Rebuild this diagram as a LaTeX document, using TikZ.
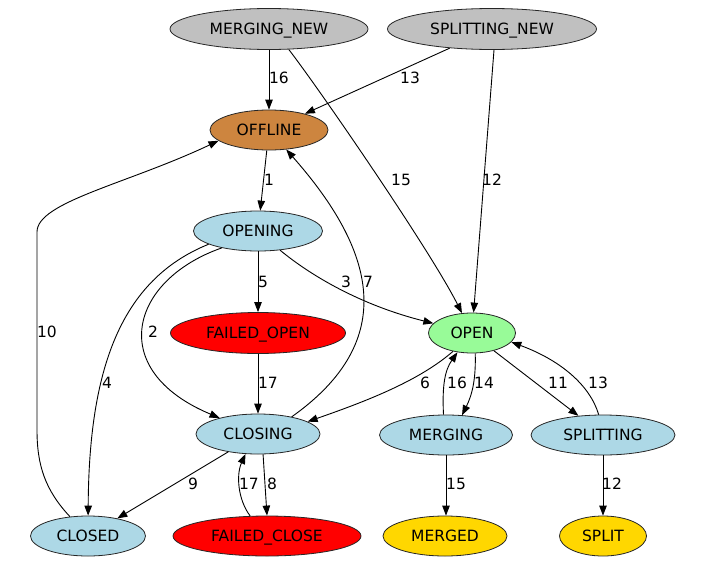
\documentclass[tikz,border=0pt]{standalone}
\usepackage{fontspec}
\setmainfont{DejaVu Sans}
\usetikzlibrary{shapes.geometric,arrows.meta}
\definecolor{cgray}{HTML}{C0C0C0}
\definecolor{cperu}{HTML}{CD853F}
\definecolor{cblue}{HTML}{ADD8E6}
\definecolor{cred}{HTML}{FF0000}
\definecolor{cgreen}{HTML}{98FB98}
\definecolor{cgold}{HTML}{FFD700}
\begin{document}
\begin{tikzpicture}[x=1pt,y=-1pt,
  state/.style={ellipse, draw=black!85, line width=0.8pt, inner sep=0pt,
    minimum height=40pt, text height=11.3pt, text depth=0pt,
    font=\fontsize{15.5}{18}\selectfont},
  edge/.style={draw=black, line width=0.9pt, -{Triangle[length=10pt,width=7.5pt]}},
  lbl/.style={inner sep=0pt, text height=11.3pt, text depth=0pt,
    font=\fontsize{15.5}{18}\selectfont}]
\useasboundingbox (0,0) rectangle (701,573);
% nodes
\node[state, fill=cgray,  minimum width=198pt, minimum height=41pt] (mn) at (269,29) {MERGING\_NEW};
\node[state, fill=cgray,  minimum width=209pt, minimum height=41pt] (sn) at (492,29) {SPLITTING\_NEW};
\node[state, fill=cperu,  minimum width=118pt] (off) at (269,130) {OFFLINE};
\node[state, fill=cblue,  minimum width=129pt] (opening) at (258,231) {OPENING};
\node[state, fill=cred,   minimum width=175pt, minimum height=41pt] (fo) at (258,333) {FAILED\_OPEN};
\node[state, fill=cgreen, minimum width=87pt] (open) at (472,333) {OPEN};
\node[state, fill=cblue,  minimum width=124pt] (closing) at (258,434) {CLOSING};
\node[state, fill=cblue,  minimum width=133pt] (merging) at (446,435) {MERGING};
\node[state, fill=cblue,  minimum width=144pt] (splitting) at (603,435) {SPLITTING};
\node[state, fill=cblue,  minimum width=115pt] (closed) at (88,536) {CLOSED};
\node[state, fill=cred,   minimum width=188pt] (fc) at (267,536) {FAILED\_CLOSE};
\node[state, fill=cgold,  minimum width=124pt] (merged) at (445,536) {MERGED};
\node[state, fill=cgold,  minimum width=87pt] (split) at (603,536) {SPLIT};
% edges
\draw[edge] (mn) -- (off);
\draw[edge] (sn) -- (off);
\draw[edge] (mn.-46) .. controls (320,90) and (430,250) .. (open);
\draw[edge] ([xshift=2pt]sn.south) -- (open);
\draw[edge] (off) -- (opening);
\draw[edge] (opening) -- (fo);
\draw[edge] (opening.-41) .. controls (310,275) and (360,305) .. (open);
\draw[edge] (closing.27) .. controls (400,340) and (375,250) .. (off);
\draw[edge] (opening.205) .. controls (130,280) and (105,370) .. (closing);
\draw[edge] (opening.195) .. controls (120,280) and (89,370) .. (closed);
\draw[edge] (closed.133) .. controls (45,490) and (37,465) .. (37,430) -- (37,232)
  .. controls (37,202) and (127,184) .. (off.192);
\draw[edge] (fo) -- (closing);
\draw[edge] (open.224) .. controls (420,380) and (370,400) .. (closing.14);
\draw[edge] (merging.97) .. controls (442,385) and (445,370) .. (open.233);
\draw[edge] (open.-81) .. controls (476,380) and (472,395) .. (merging.51);
\draw[edge] (open.-39) -- (splitting.142);
\draw[edge] (splitting.102) .. controls (590,385) and (560,360) .. (open.-13);
\draw[edge] (closing) -- (closed);
\draw[edge] (fc.130) .. controls (238,500) and (236,475) .. (closing.238);
\draw[edge] (closing.-76) -- (fc.north);
\draw[edge] (merging.south) -- (merging.south |- merged.north);
\draw[edge] (splitting) -- (split);
% labels
\node[lbl] (l1) at (279,78) {16};
\node[lbl] (l2) at (410,78) {13};
\node[lbl] (l3) at (269,180) {1};
\node[lbl] (l4) at (401,180) {15};
\node[lbl] (l5) at (492,180) {12};
\node[lbl] (l6) at (263,282) {5};
\node[lbl] (l7) at (346,282) {3};
\node[lbl] (l8) at (368,282) {7};
\node[lbl] (l9) at (47,332) {10};
\node[lbl] (l10) at (153,332) {2};
\node[lbl] (l11) at (107,383) {4};
\node[lbl] (l12) at (268,383) {17};
\node[lbl] (l13) at (425,383) {6};
\node[lbl] (l14) at (457,383) {16};
\node[lbl] (l15) at (484,383) {14};
\node[lbl] (l16) at (558,383) {11};
\node[lbl] (l17) at (598,383) {13};
\node[lbl] (l18) at (193,484) {9};
\node[lbl] (l19) at (249,484) {17};
\node[lbl] (l20) at (272,484) {8};
\node[lbl] (l21) at (456,484) {15};
\node[lbl] (l22) at (612,484) {12};
\end{tikzpicture}
\end{document}
